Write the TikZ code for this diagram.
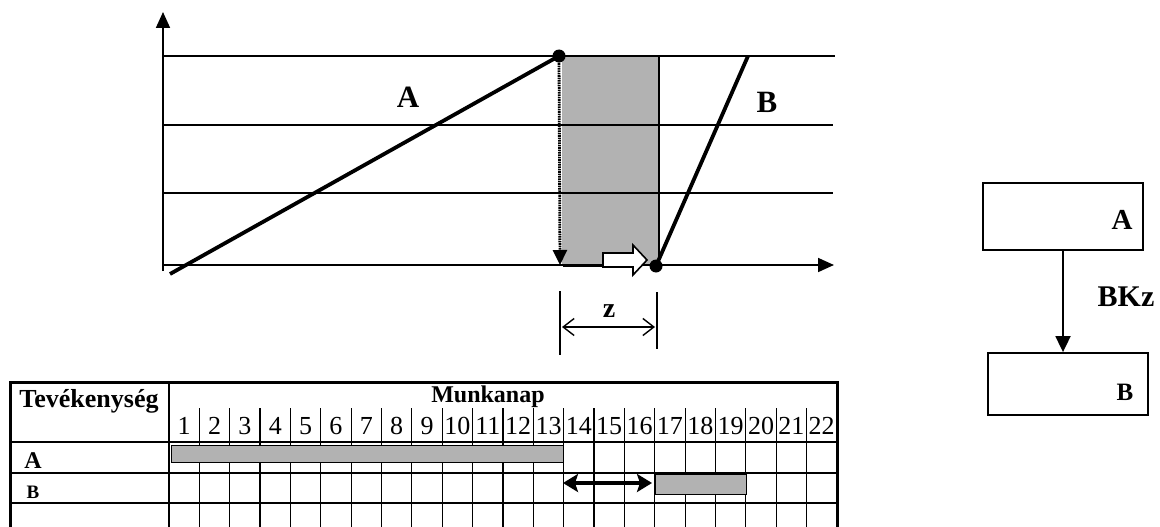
\documentclass[tikz,border=0pt]{standalone}
\usepackage{fontspec}
\setmainfont{Liberation Serif}
\usetikzlibrary{arrows.meta}
\begin{document}
\begin{tikzpicture}[x=1pt,y=-1pt,
  gline/.style={line width=1.7pt},
  heavy/.style={line width=3.8pt},
  axisline/.style={line width=1.8pt,-{Triangle[length=16pt,width=14pt]}},
  barfill/.style={fill=black!30},
  dotln/.style={line width=2.8pt,dash pattern=on 1.6pt off 0.8pt,-{Triangle[length=15pt,width=14pt]}},
  dotmark/.style={fill=black},
  lbl/.style={inner sep=0pt,font=\bfseries\fontsize{#1}{#1}\selectfont},
  num/.style={inner sep=0pt,font=\fontsize{26}{26}\selectfont},
  box/.style={draw,line width=1.8pt,inner sep=0pt},
  grid/.style={line width=1.2pt},
  border/.style={line width=3pt}
]
\useasboundingbox (0,0) rectangle (1160,527);

% ---------- chart ----------
\coordinate (pA) at (559,56);
\coordinate (pA0) at (170,274);
\coordinate (pB) at (656,266);
\coordinate (pB1) at (748,56);
\coordinate (dotend) at (560,265);
\coordinate (ytip) at (163,12);
\coordinate (ybase) at (163,271);
\coordinate (xbase) at (163,265);
\coordinate (xtip) at (834,265);

\fill[barfill] (562,56) rectangle (659,265);
\draw[gline] (659,56) -- (659,265);

\draw[gline] (163,56) -- (835,56);
\draw[gline] (163,125) -- (833,125);
\draw[gline] (163,193) -- (833,193);
\draw[axisline] (ybase) -- (ytip);
\draw[axisline] (xbase) -- (xtip);

\draw[dotln] (pA) -- (dotend);
\draw[line width=3pt] (563,265) -- (604,265);

\draw[heavy] (pA0) -- (pA);
\draw[heavy] (pB) -- (pB1);

\draw[line width=1.6pt,fill=white] (603,253) -- (633,253) -- (633,245) -- (647,260)
  -- (633,275) -- (633,267) -- (603,267) -- cycle;

\fill[dotmark] (pA) circle (6.5);
\fill[dotmark] (pB) circle (6.5);

\node[lbl=31] (labA) at (408,97) {A};
\node[lbl=31] (labB) at (767,102) {B};

% z dimension
\coordinate (z1a) at (560,291);
\coordinate (z1b) at (560,355);
\coordinate (z2a) at (657,292);
\coordinate (z2b) at (657,349);
\draw[line width=1.4pt] (z1a) -- (z1b);
\draw[line width=1.4pt] (z2a) -- (z2b);
\coordinate (zl) at (562,327);
\coordinate (zr) at (655,327);
\draw[line width=1.4pt,{Straight Barb[length=11pt,width=17pt]}-{Straight Barb[length=11pt,width=17pt]}] (zl) -- (zr);
\node[lbl=28] (zlab) at (609,311) {z};

% ---------- right diagram ----------
\node[box,minimum width=160pt,minimum height=67pt] (boxA) at (1063,216.5) {};
\node[box,minimum width=160pt,minimum height=62pt] (boxB) at (1068,384) {};
\node[lbl=29] at (1122,220) {A};
\node[lbl=25] at (1125,392) {B};
\draw[line width=1.8pt,-{Triangle[length=16pt,width=15pt]}] (boxA.south -| 1063,0) -- (boxB.north -| 1063,0);
\node[lbl=30] (bkz) at (1126,297) {BKz};

% ---------- table ----------
\def\cw{30.36}
\foreach \i in {1,...,21}{
  \draw[grid] ({169+\i*\cw},408) -- ({169+\i*\cw},527);
}
\draw[grid] (10,473) -- (837,473);
\draw[grid] (10,503) -- (837,503);
\draw[line width=2.2pt] (10,442) -- (837,442);
\draw[line width=2pt] (169,382) -- (169,527);
\draw[border] (10,527) -- (10,382) -- (837,382) -- (837,527);

\draw[barfill,line width=1pt] (171,445) rectangle (563,462);
\draw[barfill,line width=1pt] (655,474) rectangle (746,494);

\foreach \i in {1,...,22}{
  \node[num] at ({169+(\i-0.5)*\cw},426) {\i};
}
\node[lbl=26] (tev) at (89,401) {Tevékenység};
\node[lbl=24] (mun) at (488,397) {Munkanap};
\node[lbl=24] at (33,461) {A};
\node[lbl=19] at (33,492) {B};

% double arrow
\coordinate (da) at (563,483);
\coordinate (db) at (652,483);
\draw[line width=4.5pt,{Stealth[length=15pt,width=18pt,inset=3pt]}-{Stealth[length=15pt,width=18pt,inset=3pt]}] (da) -- (db);
\end{tikzpicture}
\end{document}
